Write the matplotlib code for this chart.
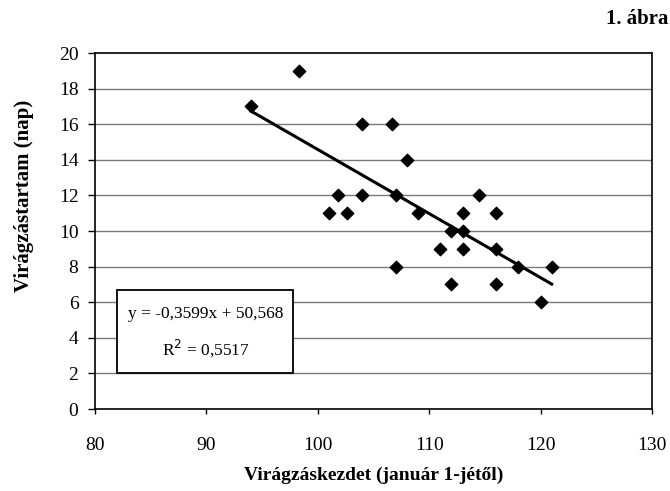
import numpy as np
import matplotlib
matplotlib.use("Agg")
from matplotlib import pyplot as plt
from matplotlib.patches import Rectangle

# flowering start (days from 1 Jan) and flowering duration (days)
start = [94, 98.3, 104, 106.7, 108, 101.8, 104, 107, 114.5, 101, 102.6, 109, 113,
         116, 112, 113, 111, 113, 116, 107, 118, 121, 112, 116, 120]
duration = [17, 19, 16, 16, 14, 12, 12, 12, 12, 11, 11, 11, 11,
            11, 10, 10, 9, 9, 9, 8, 8, 8, 7, 7, 6]
slope = -0.3599
intercept = 50.568
r2 = 0.5517

x_ticks = [80, 90, 100, 110, 120, 130]
y_ticks = list(range(0, 21, 2))

plt.rcParams['font.family'] = ['Liberation Serif', 'DejaVu Serif']


def hu(v, nd):
    return f"{v:.{nd}f}".replace(".", ",")


fig = plt.figure(figsize=(6.7, 4.91), dpi=100)
ax = fig.add_axes([0.142, 0.167, 0.831, 0.725])

for y in y_ticks[1:-1]:
    ax.axhline(y, color="#7a7a7a", lw=1, zorder=0)

ax.scatter(start, duration, marker="D", s=40, color="black", zorder=3)

xs = np.array([min(start), max(start)])
ax.plot(xs, slope * xs + intercept, color="black", lw=2.2, zorder=2)

ax.set_xlim(80, 130)
ax.set_ylim(0, 20)
ax.set_xticks(x_ticks)
ax.set_yticks(y_ticks)
ax.tick_params(direction="out", width=1, labelsize=14)
ax.tick_params(axis="y", length=5, pad=7)
ax.tick_params(axis="x", length=3.5, pad=17)
for s in ax.spines.values():
    s.set_linewidth(1.2)

ax.set_xlabel("Virágzáskezdet (január 1-jétől)", fontsize=14, fontweight="bold", labelpad=9)
ax.set_ylabel("Virágzástartam (nap)", fontsize=15, fontweight="bold")
ax.yaxis.set_label_coords(-0.11, 0.6)

# equation box
ax.add_patch(Rectangle((0.0395, 0.101), 0.3155, 0.233, transform=ax.transAxes,
                       fc="white", ec="black", lw=1.3, zorder=4))
ax.text(0.198, 0.268, f"y = {hu(slope, 4)}x + {hu(intercept, 3)}", transform=ax.transAxes,
        ha="center", va="center", fontsize=12.5, zorder=5)
ax.text(0.198, 0.172, f"R$^2$ = {hu(r2, 4)}", transform=ax.transAxes,
        ha="center", va="center", fontsize=12.5, zorder=5)

fig.text(0.997, 0.962, "1. ábra", ha="right", va="center", fontsize=15, fontweight="bold")

fig.savefig("out.png", dpi=100)
